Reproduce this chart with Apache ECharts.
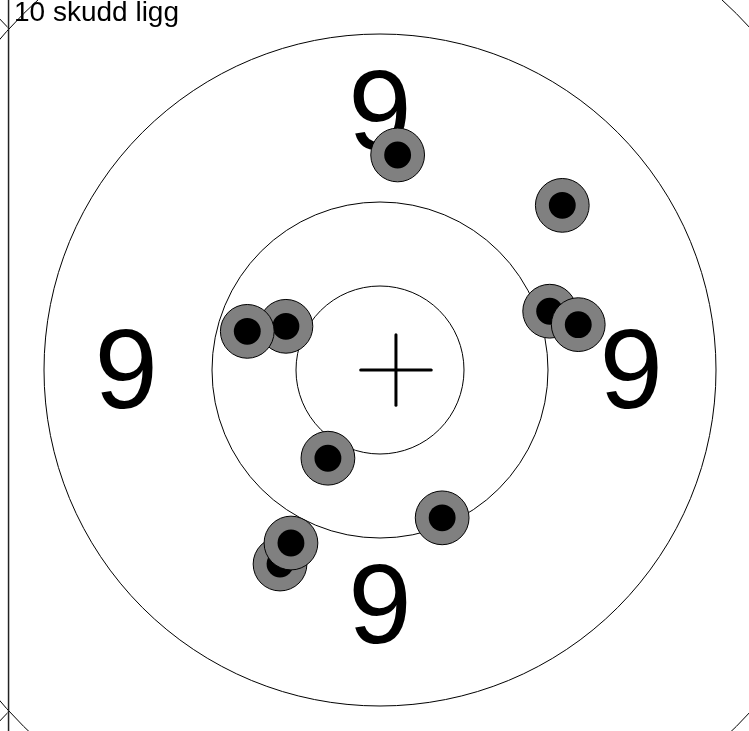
<!DOCTYPE html>
<html>
<head>
<meta charset="utf-8">
<script src="https://cdn.jsdelivr.net/npm/echarts@6/dist/echarts.min.js"></script>
<style>
html,body{margin:0;padding:0;background:#fff;}
#chart{width:749px;height:731px;}
</style>
</head>
<body>
<div id="chart"></div>
<script>
// ---- data (target units; 1 unit = inner ring radius; y points up) ----
const titleText = '10 skudd ligg';
const ringRadii = [1, 2, 4, 6];
const mirrorRingX = [-8.83];
const mirrorRingR = [6];
const shotsX = [0.21, 2.17, -1.12, -1.58, 2.02, 2.36, -0.62, 0.74, -1.19, -1.06];
const shotsY = [2.56, 1.96, 0.52, 0.46, 0.70, 0.54, -1.05, -1.76, -2.31, -2.06];
const ringLabels = ['9', '9', '9', '9'];
const ringLabelX = [-3.02, 2.99, 0, 0];
const ringLabelY = [-0.08, -0.08, 3.0, -2.87];
const mpiX = [0.19];
const mpiY = [0.0];
const axisLineX = [-4.422];

// ---- layout/style constants ----
const X_MIN = -380 / 84, X_MAX = 369 / 84;
const Y_MIN = -361 / 84, Y_MAX = 370 / 84;
const SHOT_R = 0.32, BULL_R = 0.16, CROSS_HALF = 0.42;

const ringData = ringRadii.map(r => [0, 0, r]);
const mirrorData = mirrorRingX.map((x, i) => [x, 0, mirrorRingR[i]]);
const shotData = shotsX.map((x, i) => [x, shotsY[i]]);
const labelData = ringLabels.map((t, i) => [ringLabelX[i], ringLabelY[i], t]);
const mpiData = mpiX.map((x, i) => [x, mpiY[i]]);

function ringRender(clipLeft) {
  return function (params, api) {
    const c = api.coord([api.value(0), api.value(1)]);
    const r = api.size([api.value(2), 0])[0];
    const el = { type: 'circle', shape: { cx: c[0], cy: c[1], r: r },
      style: { fill: null, stroke: '#000', lineWidth: 1 } };
    if (clipLeft) {
      const ax = api.coord([axisLineX[0], 0])[0];
      return { type: 'group', children: [el],
        clipPath: { type: 'rect', shape: { x: -2000, y: -2000, width: 2000 + ax - 1, height: 5000 } } };
    }
    return el;
  };
}

const chart = echarts.init(document.getElementById('chart'));
chart.setOption({
  animation: false,
  backgroundColor: '#fff',
  title: {
    text: titleText, left: 14, top: -1, padding: 0,
    textStyle: { fontSize: 28, fontWeight: 'normal', fontFamily: 'Liberation Sans', color: '#000' }
  },
  grid: { left: 0, right: 0, top: 0, bottom: 0 },
  xAxis: { type: 'value', min: X_MIN, max: X_MAX, show: false },
  yAxis: { type: 'value', min: Y_MIN, max: Y_MAX, show: false },
  series: [
    { type: 'custom', data: ringData, encode: { x: 0, y: 1 }, z: 1, renderItem: ringRender(false) },
    { type: 'custom', data: mirrorData, encode: { x: 0, y: 1 }, z: 1, renderItem: ringRender(true) },
    {
      type: 'line', z: 2, symbol: 'none', silent: true,
      data: [[axisLineX[0], Y_MIN], [axisLineX[0], Y_MAX]],
      lineStyle: { color: '#222', width: 1.5 }
    },
    {
      type: 'custom', data: labelData, encode: { x: 0, y: 1 }, z: 3,
      renderItem: function (params, api) {
        const c = api.coord([api.value(0), api.value(1)]);
        return { type: 'text', x: c[0], y: c[1],
          style: { text: labelData[params.dataIndex][2], fill: '#000', fontSize: 114,
            fontFamily: 'Liberation Sans', align: 'center', verticalAlign: 'middle' } };
      }
    },
    {
      type: 'custom', data: shotData, encode: { x: 0, y: 1 }, z: 4,
      renderItem: function (params, api) {
        const c = api.coord([api.value(0), api.value(1)]);
        const r1 = api.size([SHOT_R, 0])[0];
        const r2 = api.size([BULL_R, 0])[0];
        return { type: 'group', children: [
          { type: 'circle', shape: { cx: c[0], cy: c[1], r: r1 },
            style: { fill: '#808080', stroke: '#000', lineWidth: 1 } },
          { type: 'circle', shape: { cx: c[0], cy: c[1], r: r2 },
            style: { fill: '#000' } }
        ] };
      }
    },
    {
      type: 'custom', data: mpiData, encode: { x: 0, y: 1 }, z: 5,
      renderItem: function (params, api) {
        const c = api.coord([api.value(0), api.value(1)]);
        const h = api.size([CROSS_HALF, 0])[0];
        const st = { stroke: '#000', lineWidth: 3, lineCap: 'round' };
        return { type: 'group', children: [
          { type: 'line', shape: { x1: c[0] - h, y1: c[1], x2: c[0] + h, y2: c[1] }, style: st },
          { type: 'line', shape: { x1: c[0], y1: c[1] - h, x2: c[0], y2: c[1] + h }, style: st }
        ] };
      }
    }
  ]
});
</script>
</body>
</html>
